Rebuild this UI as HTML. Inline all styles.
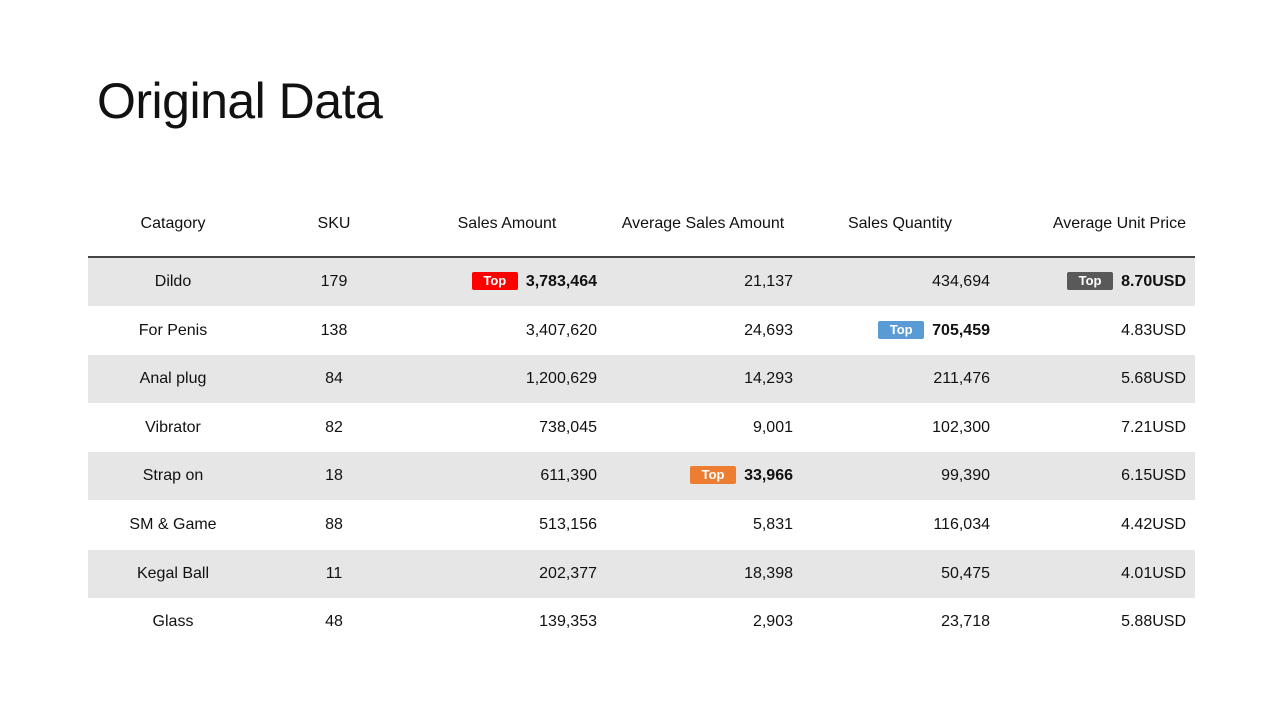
<!DOCTYPE html>
<html><head><meta charset="utf-8"><style>
body{margin:0;width:1280px;height:720px;background:#fff;position:relative;font-family:"Liberation Sans",sans-serif;color:#111;overflow:hidden}
.t{position:absolute;left:97px;top:72px;font-size:50px;font-weight:normal;margin:0;letter-spacing:-0.5px}
.h,.c{position:absolute;font-size:16px;white-space:nowrap;line-height:20px}
.row{position:absolute;left:88px;width:1107px;height:48px}
.sh{background:#e6e6e6}
.line{position:absolute;left:88px;top:256px;width:1107px;height:2px;background:#444}
.b{font-weight:bold}
.badge{display:inline-block;color:#fff;font-weight:bold;font-size:13px;width:46px;height:18px;line-height:18px;text-align:center;border-radius:2px;margin-right:8px;vertical-align:1px}
</style></head><body>
<h1 class="t">Original Data</h1>
<div class="line"></div>
<div id="tbl"></div>
<script>
const categories=["Dildo","For Penis","Anal plug","Vibrator","Strap on","SM & Game","Kegal Ball","Glass"];
const sku=["179","138","84","82","18","88","11","48"];
const salesAmount=["3,783,464","3,407,620","1,200,629","738,045","611,390","513,156","202,377","139,353"];
const avgSales=["21,137","24,693","14,293","9,001","33,966","5,831","18,398","2,903"];
const qty=["434,694","705,459","211,476","102,300","99,390","116,034","50,475","23,718"];
const price=["8.70USD","4.83USD","5.68USD","7.21USD","6.15USD","4.42USD","4.01USD","5.88USD"];
const headers=["Catagory","SKU","Sales Amount","Average Sales Amount","Sales Quantity","Average Unit Price"];
const tops={2:[0,"#ff0000"],3:[4,"#ed7d31"],4:[1,"#5b9bd5"],5:[0,"#595959"]};
const cols=[{a:"c",x:173},{a:"c",x:334},{a:"r",x:597},{a:"r",x:793},{a:"r",x:990},{a:"r",x:1186}];
const hx=[{a:"c",x:173},{a:"c",x:334},{a:"c",x:507},{a:"c",x:703},{a:"c",x:900},{a:"r",x:1186}];
const root=document.body;
function place(el,spec,y){el.style.top=y+"px";
 if(spec.a==="c"){el.style.left=spec.x+"px";el.style.transform="translateX(-50%)";}
 else{el.style.right=(1280-spec.x)+"px";}}
headers.forEach((h,i)=>{const d=document.createElement('div');d.className='h';


d.textContent=h;place(d,hx[i],214);root.appendChild(d);});
const data=[categories,sku,salesAmount,avgSales,qty,price];
categories.forEach((c,r)=>{const top=258+r*48.6;
 const row=document.createElement('div');row.className='row'+(r%2===0?' sh':'');row.style.top=top+"px";
 
 
 root.appendChild(row);
 data.forEach((arr,ci)=>{const d=document.createElement('div');d.className='c';
  
  
  const t=tops[ci];
  if(t&&t[0]===r){d.innerHTML='<span class="badge" style="background:'+t[1]+'">Top</span><span class="b">'+arr[r]+'</span>';}
  else d.textContent=arr[r];
  place(d,cols[ci],top+14);root.appendChild(d);});
});
</script>
</body></html>
